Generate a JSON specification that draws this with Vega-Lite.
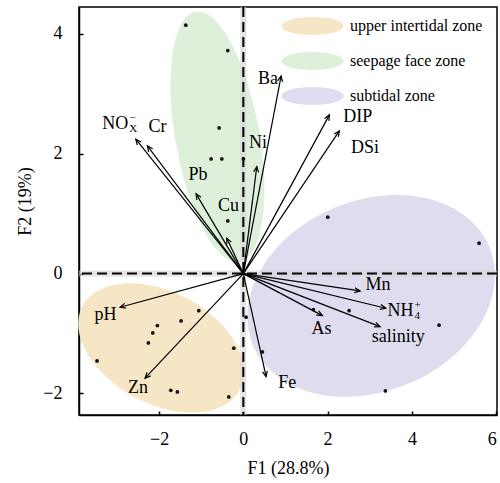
{
  "$schema": "https://vega.github.io/schema/vega-lite/v6.json",
  "width": 418,
  "height": 408,
  "autosize": {"type": "none"},
  "padding": {"left": 79, "top": 7, "right": 3, "bottom": 68},
  "background": "white",
  "config": {
    "view": {"stroke": "black", "strokeWidth": 1.5},
    "font": "Liberation Serif",
    "axis": {
      "grid": false,
      "domainColor": "black",
      "domainWidth": 1.5,
      "tickColor": "black",
      "tickWidth": 1.5,
      "tickSize": -4,
      "format": "d",
      "labelFont": "Liberation Serif",
      "labelFontSize": 18,
      "labelColor": "black",
      "titleFont": "Liberation Serif",
      "titleFontSize": 18,
      "titleFontWeight": "normal",
      "titleColor": "black"
    },
    "legend": {
      "orient": "none",
      "legendX": 224.5,
      "legendY": 10,
      "symbolType": "M 3.444 0 C 3.444 0.5523 1.902 1 0 1 C -1.902 1 -3.444 0.5523 -3.444 0 C -3.444 -0.5523 -1.902 -1 0 -1 C 1.902 -1 3.444 -0.5523 3.444 0 Z",
      "symbolSize": 324,
      "symbolStrokeWidth": 0,
      "symbolOpacity": 1,
      "labelFont": "Liberation Serif",
      "labelFontSize": 16,
      "labelColor": "black",
      "labelOffset": 28.5,
      "rowPadding": 17,
      "title": null
    }
  },
  "datasets": {
    "ellipses": [
      {"zone": "seepage face zone", "cx": -0.611, "cy": 2.282},
      {"zone": "upper intertidal zone", "cx": -1.952, "cy": -1.24},
      {"zone": "subtidal zone", "cx": 3.032, "cy": -0.372}
    ],
    "samples": [
      {"zone": "seepage face zone", "x": -1.366, "y": 4.147},
      {"zone": "seepage face zone", "x": -0.369, "y": 3.723},
      {"zone": "seepage face zone", "x": -0.575, "y": 2.432},
      {"zone": "seepage face zone", "x": -0.765, "y": 1.915},
      {"zone": "seepage face zone", "x": -0.511, "y": 1.915},
      {"zone": "seepage face zone", "x": 0.001, "y": 1.915},
      {"zone": "seepage face zone", "x": -0.369, "y": 0.88},
      {"zone": "upper intertidal zone", "x": -1.057, "y": -0.618},
      {"zone": "upper intertidal zone", "x": -1.477, "y": -0.79},
      {"zone": "upper intertidal zone", "x": -2.04, "y": -0.868},
      {"zone": "upper intertidal zone", "x": -2.149, "y": -0.99},
      {"zone": "upper intertidal zone", "x": -2.253, "y": -1.157},
      {"zone": "upper intertidal zone", "x": -3.471, "y": -1.457},
      {"zone": "upper intertidal zone", "x": -0.227, "y": -1.245},
      {"zone": "upper intertidal zone", "x": -1.722, "y": -1.947},
      {"zone": "upper intertidal zone", "x": -1.565, "y": -1.975},
      {"zone": "upper intertidal zone", "x": -0.345, "y": -2.058},
      {"zone": "subtidal zone", "x": 2.004, "y": 0.942},
      {"zone": "subtidal zone", "x": 5.595, "y": 0.508},
      {"zone": "subtidal zone", "x": 0.065, "y": -0.728},
      {"zone": "subtidal zone", "x": 2.51, "y": -0.618},
      {"zone": "subtidal zone", "x": 1.662, "y": -0.601},
      {"zone": "subtidal zone", "x": 4.645, "y": -0.86},
      {"zone": "subtidal zone", "x": 0.452, "y": -1.307},
      {"zone": "subtidal zone", "x": 3.371, "y": -1.958}
    ],
    "loadings": [
      {"var": "Ba", "x": 0.896, "y": 3.298, "label": "Ba", "lx": 0.587, "ly": 3.247},
      {"var": "DIP", "x": 2.042, "y": 2.649, "label": "DIP", "lx": 2.716, "ly": 2.608},
      {"var": "DSi", "x": 2.279, "y": 2.382, "label": "DSi", "lx": 2.889, "ly": 2.102},
      {"var": "Ni", "x": 0.319, "y": 1.786, "label": "Ni", "lx": 0.35, "ly": 2.177},
      {"var": "NOx-", "x": -2.552, "y": 2.244, "label": "NO", "sub": "X", "sup": "−", "lx": -3.041, "ly": 2.498},
      {"var": "Cr", "x": -2.277, "y": 2.132, "label": "Cr", "lx": -2.035, "ly": 2.454},
      {"var": "Pb", "x": -1.121, "y": 1.331, "label": "Pb", "lx": -1.074, "ly": 1.648},
      {"var": "Cu", "x": -0.393, "y": 0.591, "label": "Cu", "lx": -0.355, "ly": 1.122},
      {"var": "pH", "x": -2.925, "y": -0.561, "label": "pH", "lx": -3.269, "ly": -0.689},
      {"var": "Zn", "x": -2.332, "y": -1.746, "label": "Zn", "lx": -2.498, "ly": -1.913},
      {"var": "Mn", "x": 2.771, "y": -0.289, "label": "Mn", "lx": 3.193, "ly": -0.192},
      {"var": "NH4+", "x": 3.38, "y": -0.578, "label": "NH", "sub": "4", "sup": "+", "lx": 3.727, "ly": -0.623},
      {"var": "As", "x": 1.876, "y": -0.701, "label": "As", "lx": 1.853, "ly": -0.92},
      {"var": "salinity", "x": 3.245, "y": -0.885, "label": "salinity", "lx": 3.677, "ly": -1.065},
      {"var": "Fe", "x": 0.54, "y": -1.72, "label": "Fe", "lx": 1.043, "ly": -1.83}
    ]
  },
  "layer": [
    {
      "data": {"name": "ellipses"},
      "transform": [{"filter": "datum.zone == 'seepage face zone'"}],
      "mark": {
        "type": "point",
        "filled": true,
        "opacity": 1,
        "strokeWidth": 0,
        "shape": "M 1 0 C 1 0.183 0.5523 0.331 0 0.331 C -0.5523 0.331 -1 0.183 -1 0 C -1 -0.183 -0.5523 -0.331 0 -0.331 C 0.5523 -0.331 1 -0.183 1 0 Z",
        "size": 64516,
        "angle": 80
      },
      "encoding": {
        "x": {"field": "cx", "type": "quantitative", "scale": {"domain": [-3.9, 6.02], "nice": false, "zero": false},
              "axis": {"title": "F1 (28.8%)", "values": [-2, 0, 2, 4, 6], "labelPadding": 19, "titleBaseline": "middle", "titleY": 53}},
        "y": {"field": "cy", "type": "quantitative", "scale": {"domain": [-2.36, 4.45], "nice": false, "zero": false},
              "axis": {"title": "F2 (19%)", "values": [-2, 0, 2, 4], "labelPadding": 21, "titleBaseline": "middle", "titleX": -54, "titleY": 194}},
        "fill": {"field": "zone", "type": "nominal",
                 "scale": {"domain": ["upper intertidal zone", "seepage face zone", "subtidal zone"], "range": ["#F7E6C6", "#DFF0DA", "#DEDCEE"]},
                 "legend": {"title": null}}
      }
    },
    {
      "data": {"name": "ellipses"},
      "transform": [{"filter": "datum.zone == 'upper intertidal zone'"}],
      "mark": {
        "type": "point",
        "filled": true,
        "opacity": 1,
        "strokeWidth": 0,
        "shape": "M 1 0 C 1 0.347 0.5523 0.629 0 0.629 C -0.5523 0.629 -1 0.347 -1 0 C -1 -0.347 -0.5523 -0.629 0 -0.629 C 0.5523 -0.629 1 -0.347 1 0 Z",
        "size": 31684,
        "angle": 28
      },
      "encoding": {
        "x": {"field": "cx", "type": "quantitative"},
        "y": {"field": "cy", "type": "quantitative"},
        "fill": {"field": "zone", "type": "nominal"}
      }
    },
    {
      "data": {"name": "ellipses"},
      "transform": [{"filter": "datum.zone == 'subtidal zone'"}],
      "mark": {
        "type": "point",
        "filled": true,
        "opacity": 1,
        "strokeWidth": 0,
        "shape": "M 1 0 C 1 0.412 0.5523 0.746 0 0.746 C -0.5523 0.746 -1 0.412 -1 0 C -1 -0.412 -0.5523 -0.746 0 -0.746 C 0.5523 -0.746 1 -0.412 1 0 Z",
        "size": 65536,
        "angle": -22.5
      },
      "encoding": {
        "x": {"field": "cx", "type": "quantitative"},
        "y": {"field": "cy", "type": "quantitative"},
        "fill": {"field": "zone", "type": "nominal"}
      }
    },
    {
      "data": {"values": [{}]},
      "mark": {"type": "rule", "color": "#d4d4d4", "strokeWidth": 6, "opacity": 0.6},
      "encoding": {"x": {"datum": 0, "type": "quantitative"}}
    },
    {
      "data": {"values": [{}]},
      "mark": {"type": "rule", "color": "#d4d4d4", "strokeWidth": 6, "opacity": 0.6},
      "encoding": {"y": {"datum": 0, "type": "quantitative"}}
    },
    {
      "data": {"values": [{}]},
      "mark": {"type": "rule", "color": "black", "strokeWidth": 2, "strokeDash": [10, 5]},
      "encoding": {"x": {"datum": 0, "type": "quantitative"}}
    },
    {
      "data": {"values": [{}]},
      "mark": {"type": "rule", "color": "black", "strokeWidth": 2, "strokeDash": [10, 5]},
      "encoding": {"y": {"datum": 0, "type": "quantitative"}}
    },
    {
      "data": {"name": "loadings"},
      "mark": {"type": "rule", "color": "black", "strokeWidth": 1.2},
      "encoding": {
        "x": {"field": "x", "type": "quantitative"},
        "y": {"field": "y", "type": "quantitative"},
        "x2": {"datum": 0},
        "y2": {"datum": 0}
      }
    },
    {
      "data": {"name": "loadings"},
      "transform": [{"calculate": "atan2(datum.x * 42.14, datum.y * 59.9) * 180 / PI", "as": "heading"}],
      "mark": {"type": "point", "filled": false, "opacity": 1, "color": "black", "strokeWidth": 1.2,
               "shape": "M -0.45 1 L 0 0 L 0.45 1", "size": 121},
      "encoding": {
        "x": {"field": "x", "type": "quantitative"},
        "y": {"field": "y", "type": "quantitative"},
        "angle": {"field": "heading", "type": "quantitative", "scale": null}
      }
    },
    {
      "data": {"name": "samples"},
      "mark": {"type": "point", "filled": true, "opacity": 1, "color": "#111111", "size": 14, "shape": "circle"},
      "encoding": {
        "x": {"field": "x", "type": "quantitative"},
        "y": {"field": "y", "type": "quantitative"}
      }
    },
    {
      "data": {"name": "loadings"},
      "mark": {"type": "text", "font": "Liberation Serif", "fontSize": 18, "color": "black", "align": "center", "baseline": "middle"},
      "encoding": {
        "x": {"field": "lx", "type": "quantitative"},
        "y": {"field": "ly", "type": "quantitative"},
        "text": {"field": "label"}
      }
    },
    {
      "data": {"name": "loadings"},
      "transform": [{"filter": "datum.sub != null"}],
      "mark": {"type": "text", "font": "Liberation Serif", "fontSize": 11, "color": "black", "align": "left", "baseline": "middle", "dx": 14, "dy": 5},
      "encoding": {
        "x": {"field": "lx", "type": "quantitative"},
        "y": {"field": "ly", "type": "quantitative"},
        "text": {"field": "sub"}
      }
    },
    {
      "data": {"name": "loadings"},
      "transform": [{"filter": "datum.sup != null"}],
      "mark": {"type": "text", "font": "Liberation Serif", "fontSize": 11, "color": "black", "align": "left", "baseline": "middle", "dx": 14, "dy": -5.5},
      "encoding": {
        "x": {"field": "lx", "type": "quantitative"},
        "y": {"field": "ly", "type": "quantitative"},
        "text": {"field": "sup"}
      }
    }
  ]
}
